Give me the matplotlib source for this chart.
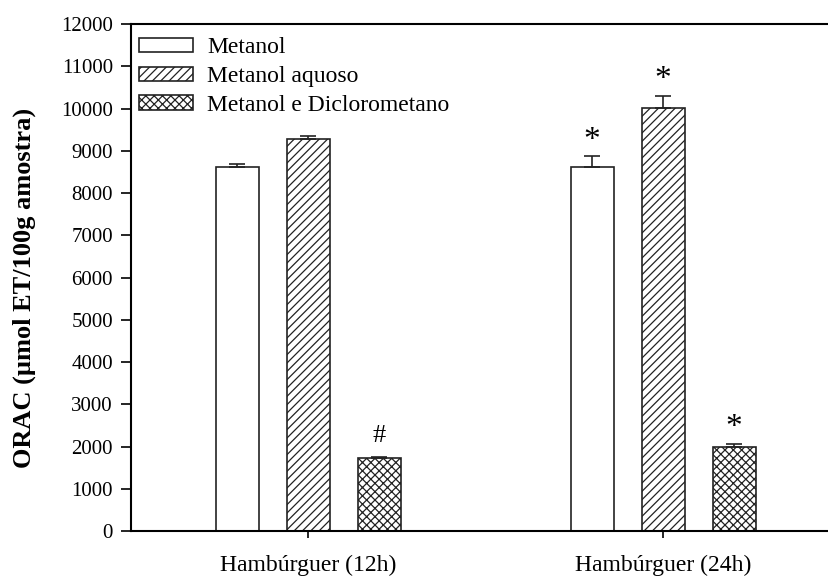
import numpy as np
import matplotlib
matplotlib.use("Agg")
import matplotlib.pyplot as plt

plt.rcParams['font.family'] = ['Liberation Serif', 'DejaVu Serif']
plt.rcParams['hatch.linewidth'] = 0.9

groups = ["Hambúrguer (12h)", "Hambúrguer (24h)"]
solvents = ["Metanol", "Metanol aquoso", "Metanol e Diclorometano"]
metanol = [8610, 8610]
metanol_aquoso = [9290, 10020]
metanol_dcm = [1730, 1980]
err_metanol = [90, 260]
err_aquoso = [55, 280]
err_dcm = [15, 75]
# significance markers per bar (group, solvent index, symbol)
marks = [(0, 2, "#"), (1, 0, "*"), (1, 1, "*"), (1, 2, "*")]

values = [metanol, metanol_aquoso, metanol_dcm]
errors = [err_metanol, err_aquoso, err_dcm]
hatches = ["", "////", "xxxx"]

fig = plt.figure(figsize=(8.29, 5.76), dpi=100)
ax = fig.add_axes([0.158, 0.078, 0.856, 0.880])

x = np.arange(len(groups))
w = 0.121
step = 0.2
for i, (vals, errs, h) in enumerate(zip(values, errors, hatches)):
    pos = x + (i - 1) * step
    ax.bar(pos, vals, w, color="white", edgecolor="#222222", linewidth=1.2,
           hatch=h, label=solvents[i], zorder=2)
    ax.errorbar(pos, vals, yerr=[np.zeros(len(vals)), errs], fmt="none",
                ecolor="#222222", elinewidth=1.2, capsize=5.5, capthick=1.2, zorder=3)

for g, s, sym in marks:
    top = values[s][g] + errors[s][g]
    if sym == "*":
        ax.text(x[g] + (s - 1) * step, top + 20, sym, ha="center", va="bottom",
                fontsize=24)
    else:
        ax.text(x[g] + (s - 1) * step, top + 250, sym, ha="center", va="bottom",
                fontsize=19)

ax.set_xlim(-0.5, 1.5)
ax.set_ylim(0, 12000)
ax.set_yticks(np.arange(0, 12001, 1000))
ax.set_xticks(x)
ax.set_xticklabels(groups)
ax.tick_params(axis="both", direction="out", width=1.2, colors="black")
ax.tick_params(axis="y", length=7, pad=6, labelsize=15)
ax.tick_params(axis="x", length=5, pad=12, labelsize=17)
for sp in ax.spines.values():
    sp.set_linewidth(1.5)

ax.set_ylabel("ORAC (µmol ET/100g amostra)", fontsize=19, fontweight="bold")
ax.yaxis.set_label_coords(-0.134, 0.48)

ax.legend(loc="upper left", frameon=False, fontsize=17, handlelength=2.3,
          handleheight=0.55, handletextpad=0.6, labelspacing=0.33,
          borderpad=0.2, borderaxespad=0.35, bbox_to_anchor=(-0.007, 1.0))

fig.savefig("out.png", dpi=100)
